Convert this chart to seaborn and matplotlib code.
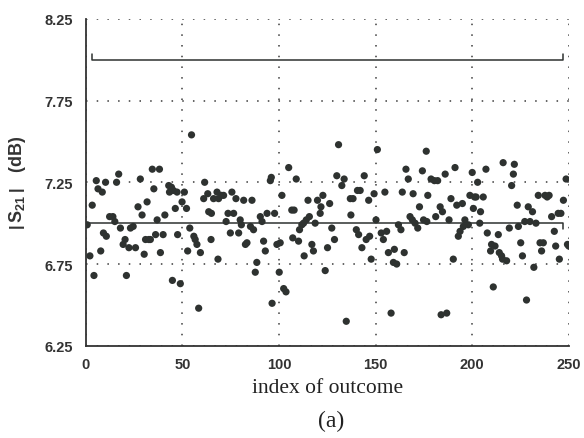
import numpy as np
import pandas as pd
import matplotlib
matplotlib.use("Agg")
import matplotlib.pyplot as plt
import seaborn as sns

# index of each outcome and its |S21| in dB
idx_a = [0.7, 2.1, 3.3, 4.2, 5.4, 6.3, 7.7, 8.5, 9.1, 10.2, 10.6, 12.3, 14.0, 15.0, 15.9,
         17.0, 17.9, 19.3, 20.3, 21.0, 22.3, 23.1, 24.5, 25.7, 27.0, 28.2, 29.1, 30.2, 30.9,
         31.7, 32.6, 33.4, 34.4, 35.2, 36.1, 36.9, 38.1, 38.6, 40.0, 40.9, 42.9, 43.3, 44.3,
         44.8, 45.3, 46.3, 47.2, 47.5, 48.9, 49.8, 51.0, 52.1, 52.7]
s21_a = [6.99, 6.80, 7.11, 6.68, 7.26, 7.21, 6.83, 7.19, 6.94, 7.25, 6.92, 7.04, 7.04, 7.01, 7.25,
         7.30, 6.97, 6.87, 6.90, 6.68, 6.85, 6.97, 6.98, 6.85, 7.10, 7.27, 7.05, 6.81, 6.90,
         7.13, 6.90, 6.90, 7.33, 7.21, 6.93, 7.02, 7.33, 6.82, 6.93, 7.05, 7.23, 7.19, 7.22,
         6.65, 7.20, 7.09, 7.19, 6.93, 6.63, 7.13, 7.19, 7.09, 6.83]

idx_b = [53.8, 54.7, 55.9, 56.6, 57.5, 58.4, 59.3, 61.0, 61.5, 63.1, 63.6, 64.8, 65.0, 66.1,
         67.9, 68.4, 68.7, 70.1, 71.3, 72.6, 73.6, 74.8, 75.6, 76.5, 77.7, 79.1, 79.9, 80.5,
         81.7, 82.6, 83.4, 85.2, 86.0, 86.8, 87.7, 88.5, 90.3, 91.2, 92.0, 92.9, 93.8, 95.5,
         96.0, 96.4, 97.7, 98.9, 100.1, 100.6, 101.5, 102.4, 103.6]
s21_b = [6.97, 7.54, 6.92, 6.90, 6.87, 6.48, 6.82, 7.15, 7.25, 7.18, 7.07, 6.90, 7.06, 7.15,
         7.19, 6.78, 7.15, 7.17, 7.17, 7.01, 7.06, 6.94, 7.19, 7.06, 7.15, 6.94, 7.02, 6.99,
         7.14, 6.87, 6.88, 6.98, 7.14, 6.96, 6.70, 6.76, 7.04, 7.01, 6.89, 6.83, 7.06, 7.26,
         7.28, 6.51, 7.06, 6.87, 6.70, 6.88, 7.17, 6.60, 6.58]

idx_c = [105.0, 106.6, 107.1, 107.8, 108.9, 110.1, 110.6, 111.8, 112.7, 113.0, 114.1, 115.0,
         115.7, 117.0, 117.8, 118.7, 119.9, 121.3, 121.7, 122.7, 123.9, 125.1, 126.2, 127.3,
         128.7, 129.9, 130.8, 132.5, 133.7, 134.8, 136.9, 137.2, 138.3, 140.0, 140.6, 141.2,
         142.0, 142.9, 144.1, 145.1, 146.4, 146.9, 147.7, 149.2, 150.2, 150.9]
s21_c = [7.34, 7.08, 6.91, 7.08, 7.27, 6.89, 6.96, 6.99, 7.00, 6.80, 7.02, 7.14,
         7.04, 6.87, 6.83, 7.00, 7.14, 7.06, 7.10, 7.17, 6.71, 6.85, 7.12, 6.97,
         6.90, 7.29, 7.48, 7.23, 7.27, 6.40, 7.15, 7.05, 7.15, 6.96, 7.20, 6.93,
         7.20, 6.85, 7.29, 6.90, 7.14, 6.92, 6.78, 7.18, 7.02, 7.45]

idx_d = [152.9, 154.0, 154.8, 155.7, 156.6, 158.0, 159.2, 159.7, 160.9, 161.8, 163.1, 163.8,
         164.8, 165.7, 166.9, 167.8, 169.0, 169.4, 170.4, 171.8, 172.7, 174.2, 174.8, 176.2,
         176.5, 177.0, 178.7, 180.4, 181.1, 182.1, 183.4, 183.9, 184.6, 186.0, 186.8, 188.0,
         189.0, 190.2, 191.1, 192.0, 192.8, 193.7, 194.9, 195.4, 196.2, 198.0, 198.8, 200.0,
         200.6]
s21_d = [6.94, 6.90, 7.19, 6.95, 6.82, 6.45, 6.76, 6.84, 6.75, 6.99, 6.96, 7.19,
         6.82, 7.33, 7.27, 7.04, 7.02, 7.18, 7.00, 6.97, 7.10, 7.32, 7.02, 7.44,
         7.01, 7.17, 7.27, 7.26, 7.04, 7.26, 7.10, 6.44, 7.07, 7.30, 6.45, 7.02,
         7.15, 6.78, 7.34, 7.11, 6.92, 6.95, 7.12, 6.98, 7.02, 6.99, 7.17, 7.31,
         7.09]

idx_e = [201.2, 202.0, 202.8, 203.9, 204.3, 205.7, 207.1, 207.8, 209.5, 210.0, 210.9, 211.8,
         213.5, 214.0, 215.2, 215.7, 216.0, 217.8, 219.2, 220.4, 221.3, 221.8, 223.3, 223.9,
         225.1, 226.0, 227.2, 228.1, 229.0, 229.9, 231.2, 231.9, 233.0, 234.2, 235.1, 235.9,
         236.8, 237.7, 238.8, 239.8, 241.1, 242.5, 243.2, 244.5, 245.1, 245.9, 247.2, 248.6,
         249.3, 250.0]
s21_e = [7.16, 7.16, 7.25, 7.00, 7.07, 7.16, 7.33, 6.94, 6.83, 6.87, 6.61, 6.86,
         6.93, 6.82, 6.80, 6.78, 7.37, 6.77, 6.97, 7.23, 7.30, 7.36, 7.11, 6.98,
         6.88, 6.80, 7.01, 6.53, 7.10, 7.01, 7.07, 6.73, 7.00, 7.17, 6.88, 6.83,
         6.88, 7.17, 7.16, 7.17, 7.04, 6.95, 6.86, 7.06, 6.78, 7.06, 7.14, 7.27,
         6.87, 6.86]

# spec lines
upper_limit = 8.0
nominal = 7.0
line_start, line_end = 3, 247
nominal_start = 0

df = pd.DataFrame({
    "index": idx_a + idx_b + idx_c + idx_d + idx_e,
    "s21": s21_a + s21_b + s21_c + s21_d + s21_e,
})

sns.set_style("white")
plt.rcParams["mathtext.fontset"] = "custom"
plt.rcParams["mathtext.bf"] = "Liberation Sans:bold"
plt.rcParams["mathtext.rm"] = "Liberation Sans:bold"

fig = plt.figure(figsize=(5.84, 4.39), dpi=100)
ax = fig.add_axes([0.147, 0.21, 0.827, 0.745])

ink = "#2e3230"
sns.scatterplot(data=df, x="index", y="s21", ax=ax, color=ink, s=27,
                edgecolor="none", zorder=3, legend=False)

# upper limit bracket and nominal line
tick = 0.035
ax.plot([line_start, line_start, line_end, line_end],
        [upper_limit + tick, upper_limit, upper_limit, upper_limit + tick],
        color=ink, lw=1.1, zorder=2)
ax.plot([nominal_start, line_end, line_end],
        [nominal, nominal, nominal - tick],
        color=ink, lw=1.1, zorder=2)

ax.set_xlim(0, 250)
ax.set_ylim(6.25, 8.25)
ax.set_xticks([0, 50, 100, 150, 200, 250])
ax.set_yticks([6.25, 6.75, 7.25, 7.75, 8.25])
ax.set_yticklabels(["6.25", "6.75", "7.25", "7.75", "8.25"])

ax.grid(True, linestyle=(0, (1, 6)), color="#3a3a3a", linewidth=1.1)
for s in ["top", "right"]:
    ax.spines[s].set_visible(False)
for s in ["left", "bottom"]:
    ax.spines[s].set_color("#333333")
    ax.spines[s].set_linewidth(1.3)
ax.tick_params(axis="y", length=0, pad=9)
ax.tick_params(axis="x", length=0, pad=8)
for lab in ax.get_xticklabels() + ax.get_yticklabels():
    lab.set_fontfamily("Liberation Sans")
    lab.set_fontweight("bold")
    lab.set_fontsize(10.5)
    lab.set_color("#333333")

ax.set_xlabel("index of outcome", fontfamily="Liberation Serif", fontsize=15.5,
              color="#222222", labelpad=5)
ax.set_ylabel(r"$\left|\,\mathbf{S}_{\mathbf{21}}\,\right|$   (dB)", fontfamily="Liberation Sans",
              fontweight="bold", fontsize=13, color="#333333", labelpad=12)
fig.text(0.567, 0.039, "(a)", fontfamily="Liberation Serif", fontsize=17,
         color="#222222", ha="center", va="center")

fig.savefig("out.png", dpi=100, facecolor="white")
